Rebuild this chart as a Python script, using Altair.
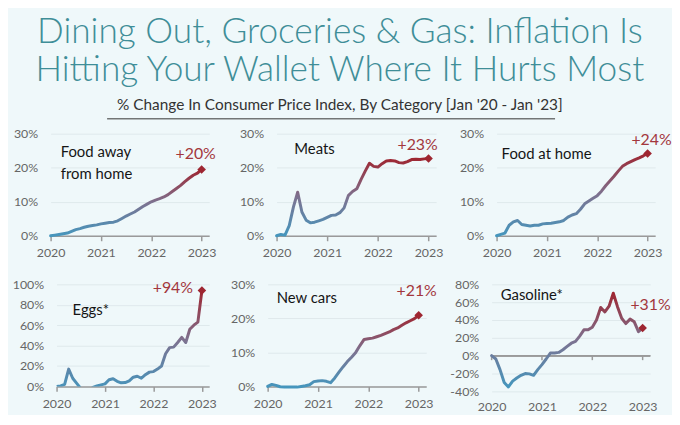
import altair as alt
import pandas as pd

# ---------------- text ----------------
TITLE_LINES = ["Dining Out, Groceries & Gas: Inflation Is",
               "Hitting Your Wallet Where It Hurts Most"]
SUBTITLE = "% Change In Consumer Price Index, By Category [Jan '20 - Jan '23]"
YEARS = [2020, 2021, 2022, 2023]

CATEGORIES = ["Food away\nfrom home", "Meats", "Food at home", "Eggs*", "New cars", "Gasoline*"]
END_LABELS = ["+20%", "+23%", "+24%", "+94%", "+21%", "+31%"]

# ---------------- data: monthly % change vs Jan 2020, Jan 2020 .. Jan 2023 ----------------
FOOD_AWAY = [0, 0.2, 0.4, 0.6, 0.8, 1.3, 1.8, 2.1, 2.5, 2.8, 3.0, 3.2,
             3.5, 3.7, 3.9, 4.0, 4.4, 5.1, 5.8, 6.4, 7.0, 7.8, 8.6, 9.3,
             10.0, 10.5, 10.9, 11.4, 12.1, 13.0, 13.9, 14.8, 15.9, 16.9, 17.8, 18.4,
             19.5]
MEATS = [0, 0.4, 0.2, 3.0, 8.5, 12.8, 7.0, 4.6, 3.8, 4.0, 4.4, 4.8,
         5.4, 6.0, 6.1, 6.8, 8.2, 11.8, 13.0, 13.8, 16.5, 19.0, 21.3, 20.4,
         20.2, 21.2, 22.0, 22.1, 22.0, 21.5, 21.4, 21.8, 22.4, 22.5, 22.4, 22.6,
         22.7]
FOOD_HOME = [0, 0.4, 0.8, 3.1, 4.1, 4.5, 3.3, 3.1, 2.9, 3.1, 3.1, 3.5,
             3.6, 3.7, 3.9, 4.1, 4.5, 5.5, 6.1, 6.5, 7.8, 9.4, 10.2, 11.0,
             11.8, 13.1, 14.7, 16.1, 17.5, 19.0, 20.4, 21.2, 21.8, 22.4, 22.9, 23.5,
             24.2]
EGGS = [0, 0.5, 2, 17, 8, 3, -2, -4, -4, -1, 0.5, 1.5,
        2.5, 6.5, 7.5, 5, 3.5, 3.8, 5.5, 9, 10, 8, 11.5, 14,
        14.5, 17, 20, 32, 38, 38.5, 43, 48, 43, 56, 60, 63,
        94]
NEW_CARS = [0, 0.6, 0.3, -0.1, -0.2, -0.2, -0.2, -0.2, 0, 0.2, 0.5, 1.4,
            1.6, 1.7, 1.5, 1.1, 2.5, 4.2, 5.8, 7.3, 8.6, 10.0, 12.0, 13.8,
            14.0, 14.2, 14.6, 15.0, 15.5, 16.0, 16.7, 17.2, 18.0, 18.7, 19.3, 19.9,
            20.9]
GASOLINE = [0, -3.7, -15.6, -30, -35, -28.5, -25, -22, -20, -20.4, -22, -15.6,
            -10, -3.7, 3, 3, 3.7, 6.7, 10.4, 14, 16, 22, 29, 29,
            32, 40, 54, 49, 55.5, 70, 55, 42, 36, 41, 38, 27,
            31]

SERIES = [FOOD_AWAY, MEATS, FOOD_HOME, EGGS, NEW_CARS, GASOLINE]

# ---------------- styles ----------------
BG = "#eff8fa"
TEAL = "#3f8e98"
BLUE = "#4596bd"
MID = "#7d7290"
RED = "#9e2631"
LABEL_RED = "#a3373d"
GRID = "#dfe9ec"
AXIS_GREY = "#9a9a9a"
TXT_GREY = "#666666"
FONT = "Lato"

GRADIENT = alt.LinearGradient(
    gradient="linear",
    stops=[alt.GradientStop(color=BLUE, offset=0),
           alt.GradientStop(color=MID, offset=0.5),
           alt.GradientStop(color=RED, offset=1)],
    x1=0, x2=0, y1=1, y2=0)

X_END = 2023.15


def panel(values, name, end_label, ydom, ystep, width, height, name_at,
          ldx, ldy, lalign, zero_axis=False, clip=False):
    df = pd.DataFrame({"t": [2020 + i / 12 for i in range(len(values))], "v": values})
    last = pd.DataFrame({"t": [df.t.iloc[-1]], "v": [values[-1]], "lab": [end_label]})
    nm = pd.DataFrame({"t": [name_at[0]], "v": [name_at[1]], "lab": [name]})

    xs = alt.Scale(domain=[2020, X_END], nice=False, zero=False)
    ys = alt.Scale(domain=list(ydom), nice=False, zero=False)
    yaxis = alt.Axis(values=list(range(ydom[0], ydom[1] + 1, ystep)),
                     labelExpr="datum.value + '%'", domain=False, ticks=False,
                     grid=True, gridColor=GRID, gridWidth=1, labelPadding=13,
                     labelOverlap=False, labelFlush=False, labelBound=False,
                     labelFontSize=12.5, labelColor=TXT_GREY, labelFont=FONT, title=None)
    xaxis = alt.Axis(values=YEARS, format="d", title=None, grid=False,
                     domain=not zero_axis, ticks=not zero_axis,
                     domainColor=AXIS_GREY, domainWidth=1.5, tickColor=AXIS_GREY,
                     tickWidth=1.5, tickSize=5, labelOverlap=False, labelFlush=False,
                     labelPadding=(9 if zero_axis else 6), labelFontSize=12.5,
                     labelColor=TXT_GREY, labelFont=FONT)
    X = alt.X("t:Q", scale=xs, axis=xaxis)
    Y = alt.Y("v:Q", scale=ys, axis=yaxis)

    layers = []
    if zero_axis:
        ticks_df = pd.DataFrame({"t": YEARS, "v": [0] * len(YEARS), "v2": [-5] * len(YEARS),
                                 "t0": [2020] * len(YEARS), "t1": [X_END] * len(YEARS)})
        layers.append(alt.Chart(ticks_df).mark_rule(color=AXIS_GREY, strokeWidth=1.5).encode(
            x=X, y=Y, y2="v2:Q"))
        layers.append(alt.Chart(ticks_df).mark_rule(color=AXIS_GREY, strokeWidth=1.5).encode(
            x=alt.X("t0:Q", scale=xs, axis=xaxis), x2="t1:Q", y=Y))

    line = alt.Chart(df).mark_line(color=GRADIENT, strokeWidth=3, strokeCap="round",
                                   strokeJoin="round", clip=clip).encode(x=X, y=Y)
    layers.append(line)
    layers.append(alt.Chart(last).mark_point(shape="diamond", filled=True, size=75,
                                             color=RED, opacity=1).encode(x=X, y=Y))
    layers.append(alt.Chart(last).mark_text(font=FONT, fontSize=16, color=LABEL_RED,
                                            align=lalign, baseline="middle",
                                            dx=ldx, dy=ldy).encode(
        x=X, y=Y, text="lab:N"))
    layers.append(alt.Chart(nm).mark_text(font=FONT, fontSize=15, color="#151515",
                                          align="left", baseline="middle",
                                          lineBreak="\n", lineHeight=22).encode(
        x=X, y=Y, text="lab:N"))
    return alt.layer(*layers).properties(width=width, height=height)


p1 = panel(SERIES[0], CATEGORIES[0], END_LABELS[0], (0, 30), 10, 160, 103,
           (2020.2, 24.5), -6, -16, "center")
p2 = panel(SERIES[1], CATEGORIES[1], END_LABELS[1], (0, 30), 10, 161, 103,
           (2020.35, 25.5), -11, -14, "center")
p3 = panel(SERIES[2], CATEGORIES[2], END_LABELS[2], (0, 30), 10, 160, 103,
           (2020.1, 24.0), 4, -14, "center")
p4 = panel(SERIES[3], CATEGORIES[3], END_LABELS[3], (0, 100), 20, 154, 103,
           (2020.33, 75), -9, -2, "right", clip=True)
p5 = panel(SERIES[4], CATEGORIES[4], END_LABELS[4], (0, 30), 10, 160, 103,
           (2020.18, 26), -2, -24, "center")
p6 = panel(SERIES[5], CATEGORIES[5], END_LABELS[5], (-40, 80), 20, 160, 108,
           (2020.18, 68), 8, -23, "center", zero_axis=True)


def spacer():
    return alt.Chart(pd.DataFrame({"a": [0]})).mark_point(
        opacity=0, size=0, strokeWidth=0).properties(width=1, height=1)


row1 = alt.hconcat(alt.hconcat(alt.hconcat(spacer(), p1, spacing=4), p2, spacing=23),
                   p3, spacing=16)
row2 = alt.hconcat(alt.hconcat(alt.hconcat(spacer(), p4, spacing=3), p5, spacing=13),
                   p6, spacing=12)

underline = alt.Chart(pd.DataFrame({"a": [0]})).mark_rule(color="#333333", strokeWidth=1).encode(
    x=alt.value(100), x2=alt.value(552), y=alt.value(0)).properties(width=650, height=1)

chart = alt.vconcat(
    underline,
    alt.vconcat(row1, row2, spacing=19),
    spacing=8
).properties(
    title=alt.TitleParams(
        text=TITLE_LINES, subtitle=SUBTITLE, anchor="middle",
        font=FONT, fontSize=35.5, fontWeight=300, lineHeight=38, color=TEAL,
        subtitleFont=FONT, subtitleFontSize=15.5, subtitleColor="#333333",
        subtitlePadding=10, offset=5),
    padding={"left": 0, "top": 5, "right": 0, "bottom": 0},
    background=BG
).configure_view(stroke=None).configure_axis(labelOverlap=False)

chart.save("out.html", embed_options={"renderer": "svg", "actions": False})
